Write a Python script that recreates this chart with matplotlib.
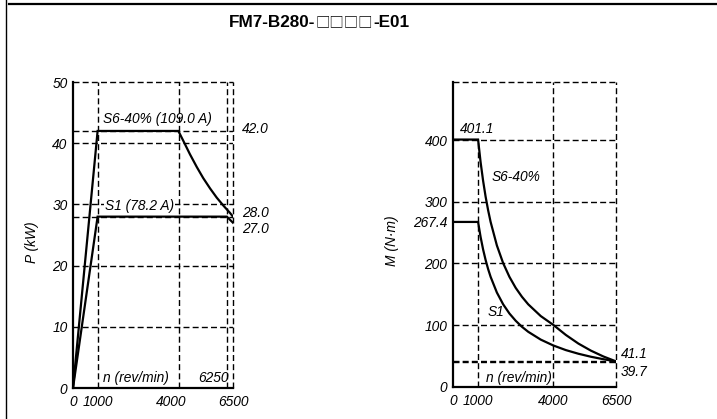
import matplotlib
matplotlib.use('Agg')
import matplotlib.pyplot as plt
from matplotlib.lines import Line2D

plt.rcParams['font.family'] = ['Liberation Sans', 'DejaVu Sans']

title_parts = ['FM7-B280-', '□□□□', '-E01']

# ---------- Power chart data ----------
p_xlim = (0, 6500)
p_ylim = (0, 50)
p_xticks = [0, 1000, 4000, 6500]
p_xticklabels = ['0', '1000', '4000', '6500']
p_yticks = [0, 10, 20, 30, 40, 50]
p_yticklabels = ['0', '10', '20', '30', '40', '50']
p_vgrid = [1000, 4300, 6250]
p_hgrid = [10, 20, 30, 40, 42.0, 28.0]
p_s6_n = [0, 1000, 4280, 4480, 4750, 5030, 5290, 5570, 5840, 6110, 6380, 6500]
p_s6_P = [0, 42.0, 42.0, 40.4, 38.2, 36.1, 34.3, 32.6, 31.1, 29.8, 28.6, 28.0]
p_s1_n = [0, 1000, 6250, 6500]
p_s1_P = [0, 28.0, 28.0, 27.0]
p_right_labels = ['42.0', '28.0', '27.0']
p_right_label_y = [42.3, 28.6, 26.0]

# ---------- Torque chart data ----------
m_xlim = (0, 6500)
m_ylim = (0, 495)
m_xticks = [0, 1000, 4000, 6500]
m_xticklabels = ['0', '1000', '4000', '6500']
m_yticks = [0, 100, 200, 267.4, 300, 400]
m_yticklabels = ['0', '100', '200', '267.4', '300', '400']
m_hgrid = [100, 200, 300, 400, 41.1, 39.7]
m_vgrid = [4000]
m_knee_n = 1000
m_knee_M = 401.1
m_s6_n = [0, 1000, 1100, 1200, 1300, 1400, 1500, 1750, 2000, 2250, 2500, 2750,
          3000, 3500, 4000, 4500, 5000, 5500, 6000, 6500]
m_s6_M = [401.1, 401.1, 364.6, 334.3, 308.5, 286.5, 267.4, 229.2, 200.5, 178.3,
          160.4, 145.9, 133.7, 114.6, 100.3, 84.0, 70.0, 58.5, 49.0, 41.1]
m_s1_n = [0, 1000, 1100, 1200, 1300, 1400, 1500, 1750, 2000, 2250, 2500, 2750,
          3000, 3500, 4000, 4500, 5000, 5500, 6000, 6250, 6500]
m_s1_M = [267.4, 267.4, 243.1, 222.8, 205.7, 191.0, 178.3, 152.8, 133.7, 118.8,
          107.0, 97.2, 89.1, 76.4, 66.9, 59.4, 53.5, 48.6, 44.6, 42.8, 39.7]
m_right_labels = ['41.1', '39.7']
m_right_label_y = [52.5, 24.3]

W, H = 717, 419
fig = plt.figure(figsize=(W / 100, H / 100), dpi=100)
fig.patch.set_facecolor('white')

DASH = (4.3, 2.3)
GRID_KW = dict(color='black', lw=1.0, dashes=DASH, zorder=1)
CURVE_KW = dict(color='black', lw=1.6, zorder=3, solid_joinstyle='miter')
FS = 9.9


def style_axes(ax, xlim, ylim, xticks, xticklabels, yticks, yticklabels):
    ax.set_xlim(*xlim)
    ax.set_ylim(*ylim)
    ax.set_xticks(xticks)
    ax.set_xticklabels(xticklabels, fontsize=FS, style='italic')
    ax.set_yticks(yticks)
    ax.set_yticklabels(yticklabels, fontsize=FS, style='italic')
    ax.tick_params(length=0, pad=4)
    ax.tick_params(axis='x', pad=5)
    for s in ('top', 'right'):
        ax.spines[s].set_visible(False)
    for s in ('left', 'bottom'):
        ax.spines[s].set_linewidth(1.6)
        ax.spines[s].set_zorder(4)
    ax.axhline(ylim[1], clip_on=False, **GRID_KW)
    ax.axvline(xlim[1], clip_on=False, **GRID_KW)
    ax.set_facecolor('none')


# ---------- Power chart ----------
ax1 = fig.add_axes([73 / W, 1 - 388 / H, 160 / W, 306 / H])
style_axes(ax1, p_xlim, p_ylim, p_xticks, p_xticklabels, p_yticks, p_yticklabels)
for v in p_vgrid:
    ax1.axvline(v, **GRID_KW)
for h in p_hgrid:
    ax1.axhline(h, **GRID_KW)
ax1.plot(p_s6_n, p_s6_P, **CURVE_KW)
ax1.plot(p_s1_n, p_s1_P, **CURVE_KW)
for lab, yv in zip(p_right_labels, p_right_label_y):
    ax1.text(1.056, yv, lab, transform=ax1.get_yaxis_transform(),
             fontsize=FS, style='italic', ha='left', va='center')
ax1.text(1207, 44.0, 'S6-40% (109.0 A)', fontsize=FS, style='italic',
         ha='left', va='center', zorder=5)
ax1.text(1300, 29.8, 'S1 (78.2 A)', fontsize=FS, style='italic',
         ha='left', va='center', zorder=5,
         bbox=dict(facecolor='white', edgecolor='none', pad=0.6))
ax1.text(1207, 1.6, 'n (rev/min)', fontsize=FS, style='italic',
         ha='left', va='center', zorder=5)
ax1.text(6330, 1.6, '6250', fontsize=FS, style='italic',
         ha='right', va='center', zorder=5)
ax1.set_ylabel('P (kW)', fontsize=FS, style='italic')
ax1.yaxis.set_label_coords(-0.2125, 0.477)

# ---------- Torque chart ----------
ax2 = fig.add_axes([453 / W, 1 - 386.7 / H, 163 / W, 305 / H])
style_axes(ax2, m_xlim, m_ylim, m_xticks, m_xticklabels, m_yticks, m_yticklabels)
for v in m_vgrid:
    ax2.axvline(v, **GRID_KW)
ax2.plot([m_knee_n, m_knee_n], [0, m_knee_M], **GRID_KW)
for h in m_hgrid:
    ax2.axhline(h, **GRID_KW)
ax2.plot(m_s6_n, m_s6_M, **CURVE_KW)
ax2.plot(m_s1_n, m_s1_M, **CURVE_KW)
for lab, yv in zip(m_right_labels, m_right_label_y):
    ax2.text(1.029, yv, lab, transform=ax2.get_yaxis_transform(),
             fontsize=FS, style='italic', ha='left', va='center')
ax2.text(950, 418, '401.1', fontsize=FS, style='italic', ha='center', va='center')
ax2.text(1543, 340, 'S6-40%', fontsize=FS, style='italic', ha='left', va='center')
ax2.text(1383, 121, 'S1', fontsize=FS, style='italic', ha='left', va='center')
ax2.text(1316, 14.6, 'n (rev/min)', fontsize=FS, style='italic',
         ha='left', va='center', zorder=5)
ax2.set_ylabel('M (N·m)', fontsize=FS, style='italic')
ax2.yaxis.set_label_coords(-0.331, 0.478)

# ---------- Title (pieces so the boxes use a full-width font) ----------
TFS = 12.3
t1 = fig.text(229 / W, 1 - 22.5 / H, title_parts[0], fontsize=TFS, fontweight='bold',
              ha='left', va='center', family=['Liberation Sans', 'DejaVu Sans'])
t2 = ax1.annotate(title_parts[1], xy=(1, 0.5), xycoords=t1, ha='left', va='center',
                  fontsize=TFS * 0.84, fontweight='normal', annotation_clip=False,
                  family=['Noto Sans CJK SC', 'DejaVu Sans'])
t3 = ax1.annotate(title_parts[2], xy=(1, 0.5), xycoords=t2, ha='left', va='center',
                  fontsize=TFS, fontweight='bold', annotation_clip=False,
                  family=['Liberation Sans', 'DejaVu Sans'])
fig.add_artist(Line2D([9 / W, 1.0], [1 - 4 / H, 1 - 4 / H], color='black', lw=1.6))
fig.add_artist(Line2D([6 / W, 6 / W], [0, 1], color='black', lw=1.0))

fig.savefig('out.png', dpi=100, facecolor='white')
